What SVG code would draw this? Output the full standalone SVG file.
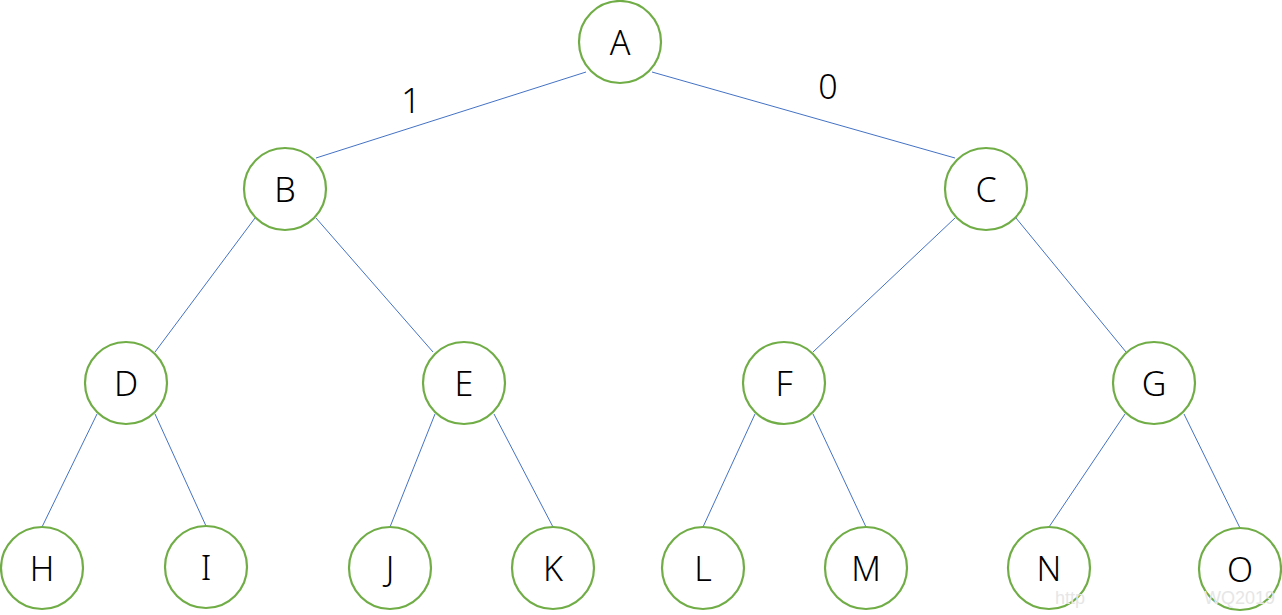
<svg xmlns="http://www.w3.org/2000/svg" width="1282" height="615" viewBox="0 0 1282 615">
<style>
.n circle{fill:#fff;stroke:#70AD47;stroke-width:2.2}
.n text{font-family:"Noto Sans","Liberation Sans",sans-serif;font-weight:300;font-size:34px;fill:#000;text-anchor:middle}
.e line{stroke:#4472C4;stroke-width:1}
.lbl{font-family:"Noto Sans","Liberation Sans",sans-serif;font-weight:300;font-size:34px;fill:#000;text-anchor:middle}
.wm{font-family:"Liberation Sans",sans-serif;font-size:18px;fill:#e6e6e6}
</style>
<rect width="1282" height="615" fill="#fff"/>
<g id="connectors" class="e">
<line x1="586" y1="72" x2="316" y2="158"/>
<line x1="652" y1="72" x2="955" y2="158"/>
<line x1="255" y1="218" x2="155" y2="352"/>
<line x1="316" y1="218" x2="433" y2="352"/>
<line x1="955" y1="218" x2="813" y2="352"/>
<line x1="1016" y1="218" x2="1126" y2="352"/>
<line x1="97" y1="414" x2="42" y2="527"/>
<line x1="155" y1="414" x2="206" y2="526"/>
<line x1="435" y1="414" x2="390" y2="527"/>
<line x1="494" y1="414" x2="553" y2="527"/>
<line x1="755" y1="414" x2="703" y2="527"/>
<line x1="813" y1="414" x2="866" y2="527"/>
<line x1="1125" y1="414" x2="1049" y2="527"/>
<line x1="1184" y1="414" x2="1240" y2="528"/>
</g>
<text class="lbl" x="411" y="113">1</text>
<text class="lbl" x="828" y="99">0</text>
<g id="A" class="n"><circle cx="620" cy="42" r="41"/><text x="620" y="54.5">A</text></g>
<g id="B" class="n"><circle cx="285" cy="189" r="41"/><text x="285" y="201.5">B</text></g>
<g id="C" class="n"><circle cx="986" cy="189" r="41"/><text x="986" y="201.5">C</text></g>
<g id="D" class="n"><circle cx="126" cy="383" r="41"/><text x="126" y="395.5">D</text></g>
<g id="E" class="n"><circle cx="464" cy="383" r="41"/><text x="464" y="395.5">E</text></g>
<g id="F" class="n"><circle cx="784" cy="383" r="41"/><text x="784" y="395.5">F</text></g>
<g id="G" class="n"><circle cx="1154" cy="383" r="41"/><text x="1154" y="395.5">G</text></g>
<g id="H" class="n"><circle cx="42" cy="568" r="41"/><text x="42" y="580.5">H</text></g>
<g id="I" class="n"><circle cx="206" cy="567" r="41"/><text x="206" y="579.5">I</text></g>
<g id="J" class="n"><circle cx="390" cy="568" r="41"/><text x="390" y="580.5">J</text></g>
<g id="K" class="n"><circle cx="553" cy="568" r="41"/><text x="553" y="580.5">K</text></g>
<g id="L" class="n"><circle cx="703" cy="568" r="41"/><text x="703" y="580.5">L</text></g>
<g id="M" class="n"><circle cx="866" cy="568" r="41"/><text x="866" y="580.5">M</text></g>
<g id="N" class="n"><circle cx="1049" cy="568" r="41"/><text x="1049" y="580.5">N</text></g>
<g id="O" class="n"><circle cx="1240" cy="569" r="41"/><text x="1240" y="581.5">O</text></g>
<text class="wm" x="1055" y="604">http</text>
<text class="wm" x="1204" y="604">WQ2019</text>
</svg>
